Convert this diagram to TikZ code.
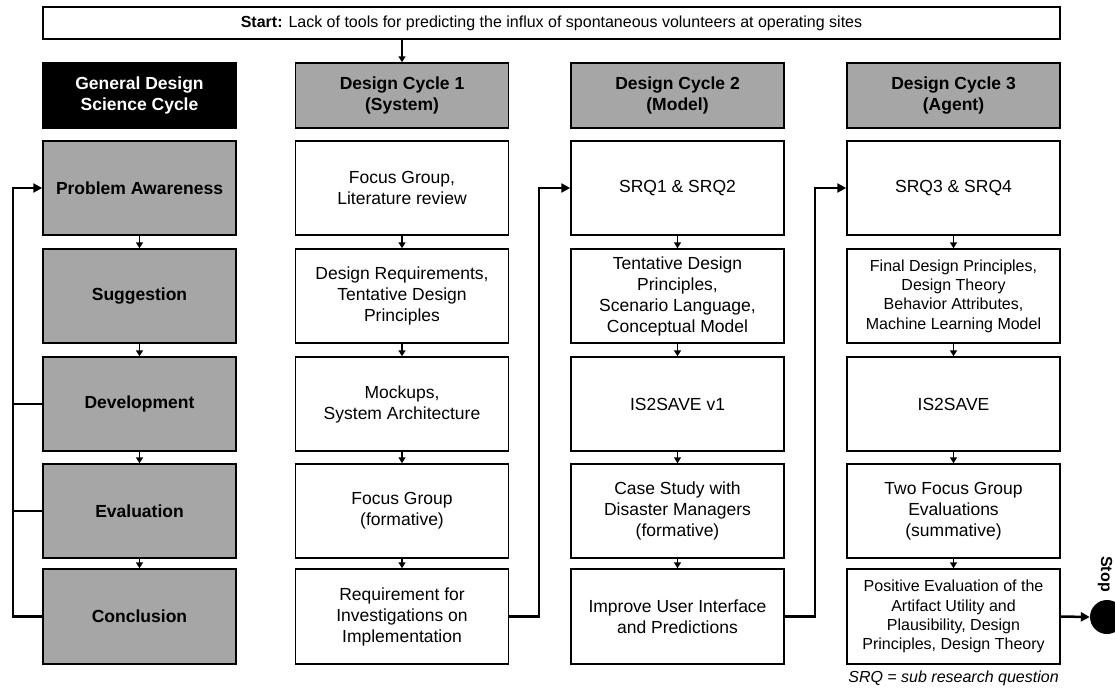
\documentclass[tikz,border=0pt]{standalone}
\usepackage{fontspec}
\setmainfont{Liberation Sans}
\usetikzlibrary{arrows.meta}
\definecolor{cellgray}{RGB}{166,166,166}

\tikzset{
  x=1pt, y=-1pt,
  base/.style={draw=black, line width=1.5pt, inner sep=0pt, align=center,
    font=\fontsize{17.5}{21}\selectfont},
  wide/.style={base, minimum width=213pt},
  narrow/.style={base, minimum width=193pt},
  head/.style={minimum height=65pt, font=\fontsize{17.5}{21}\selectfont\bfseries},
  row/.style={minimum height=94pt},
  grayhead/.style={wide, head, fill=cellgray},
  blackhead/.style={narrow, head, fill=black, text=white},
  phase/.style={narrow, row, fill=cellgray, font=\fontsize{17.5}{21}\selectfont\bfseries},
  work/.style={wide, row, fill=white},
  small/.style={font=\fontsize{16}{19.3}\selectfont},
  flow/.style={line width=1.5pt, -{Triangle[length=6pt,width=7pt]}},
  link/.style={line width=2.5pt, -{Triangle[length=9pt,width=9pt]}},
  feed/.style={line width=2.5pt},
}

\begin{document}
\begin{tikzpicture}
\useasboundingbox (0,0) rectangle (1115,689);

% start of the process
\node[base, minimum width=1017pt, minimum height=32pt, fill=white,
      font=\fontsize{16}{19}\selectfont] (start) at (551.5,23)
  {\textbf{Start:} Lack of tools for predicting the influx of spontaneous volunteers at operating sites};

% general design science cycle
\node[blackhead] (h1) at (139.5,95.5) {General Design\\Science Cycle};
\node[phase] (a1) at (139.5,188)   {Problem Awareness};
\node[phase] (b1) at (139.5,296)   {Suggestion};
\node[phase] (c1) at (139.5,404)   {Development};
\node[phase] (d1) at (139.5,511)   {Evaluation};
\node[phase, minimum height=95pt] (e1) at (139.5,616.5) {Conclusion};

% design cycle 1
\node[grayhead] (h2) at (402,95.5) {Design Cycle 1\\(System)};
\node[work] (a2) at (402,188) {Focus Group,\\Literature review};
\node[work] (b2) at (402,296) {Design Requirements,\\Tentative Design\\Principles};
\node[work] (c2) at (402,404) {Mockups,\\System Architecture};
\node[work] (d2) at (402,511) {Focus Group\\(formative)};
\node[work, minimum height=95pt] (e2) at (402,616.5) {Requirement for\\Investigations on\\Implementation};

% design cycle 2
\node[grayhead] (h3) at (677.5,95.5) {Design Cycle 2\\(Model)};
\node[work] (a3) at (677.5,188) {SRQ1 \& SRQ2};
\node[work] (b3) at (677.5,296) {Tentative Design\\Principles,\\Scenario Language,\\Conceptual Model};
\node[work] (c3) at (677.5,404) {IS2SAVE v1};
\node[work] (d3) at (677.5,511) {Case Study with\\Disaster Managers\\(formative)};
\node[work, minimum height=95pt] (e3) at (677.5,616.5) {Improve User Interface\\and Predictions};

% design cycle 3
\node[grayhead] (h4) at (953.5,95.5) {Design Cycle 3\\(Agent)};
\node[work] (a4) at (953.5,188) {SRQ3 \& SRQ4};
\node[work, small] (b4) at (953.5,296) {Final Design Principles,\\Design Theory\\Behavior Attributes,\\Machine Learning Model};
\node[work] (c4) at (953.5,404) {IS2SAVE};
\node[work] (d4) at (953.5,511) {Two Focus Group\\Evaluations\\(summative)};
\node[work, small, minimum height=95pt] (e4) at (953.5,616.5) {Positive Evaluation of the\\Artifact Utility and\\Plausibility, Design\\Principles, Design Theory};

% end of the process
\node[circle, fill=black, minimum size=34pt, inner sep=0pt] (stop) at (1107,617) {};
\node[rotate=-90, font=\fontsize{16}{19}\selectfont\bfseries] (stoptext) at (1105,574) {Stop};
\node[font=\fontsize{16}{19}\selectfont\itshape] (note) at (953.5,678) {SRQ = sub research question};

% guide coordinates for the vertical connector runs
\coordinate (lx) at (13,0);
\coordinate (l2) at (539,0);
\coordinate (l3) at (815,0);

% start arrow
\draw[flow] (start.south -| h2.north) -- (h2.north);

% steps within each column
\foreach \c in {1,2,3,4}{
  \draw[flow] (a\c.south) -- (b\c.north);
  \draw[flow] (b\c.south) -- (c\c.north);
  \draw[flow] (c\c.south) -- (d\c.north);
  \draw[flow] (d\c.south) -- (e\c.north);
}

% feedback loop of the general cycle
\draw[link] (e1.west) -- (e1.west -| lx) |- (a1.west);
\draw[feed] (c1.west) -- (c1.west -| lx);
\draw[feed] (d1.west) -- (d1.west -| lx);

% transitions between design cycles
\draw[link] (e2.east) -- (e2.east -| l2) |- (a3.west);
\draw[link] (e3.east) -- (e3.east -| l3) |- (a4.west);
\draw[link] (e4.east) -- (stop.west);
\end{tikzpicture}
\end{document}
